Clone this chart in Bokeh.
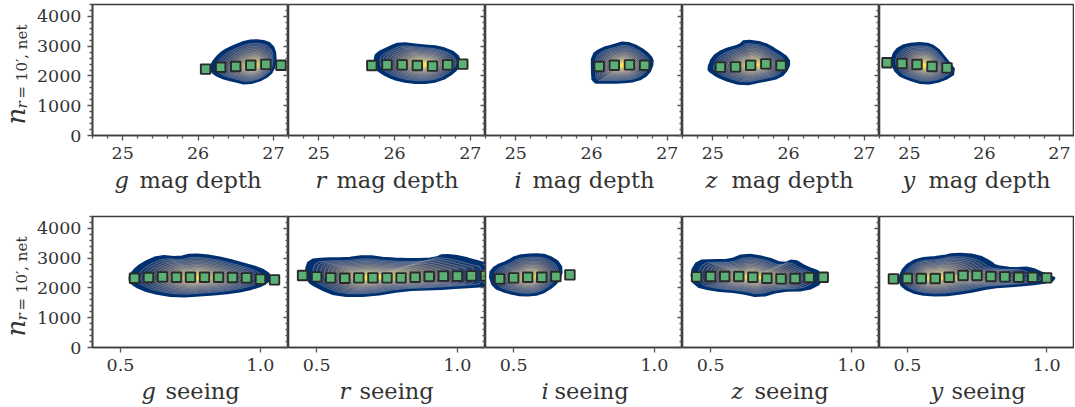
from math import pi

from bokeh.plotting import figure
from bokeh.layouts import column, row
from bokeh.models import FixedTicker, LinearAxis, Range1d, NumeralTickFormatter
from bokeh.core.properties import value
from bokeh.palettes import Cividis256
from bokeh.embed import file_html
from bokeh.resources import INLINE

Y_TICKS = [0, 1000, 2000, 3000, 4000]
Y_MINOR = [v for v in range(0, 4401, 200) if v % 1000]
DEPTH_TICKS = [25, 26, 27]
DEPTH_MINOR = [24.6, 24.8, 25.2, 25.4, 25.6, 25.8, 26.2, 26.4, 26.6, 26.8, 27.2]
SEEING_TICKS = [0.5, 1.0]

# median points
g_depth_x = [26.1, 26.3, 26.5, 26.7, 26.9, 27.1]
g_depth_y = [2230, 2290, 2320, 2360, 2390, 2360]
r_depth_x = [25.7, 25.9, 26.1, 26.3, 26.5, 26.7, 26.9]
r_depth_y = [2351, 2373, 2373, 2351, 2329, 2373, 2396]
i_depth_x = [26.1, 26.3, 26.5, 26.7]
i_depth_y = [2317, 2362, 2373, 2362]
z_depth_x = [25.1, 25.3, 25.5, 25.7, 25.9]
z_depth_y = [2295, 2306, 2362, 2407, 2351]
y_depth_x = [24.7, 24.9, 25.1, 25.3, 25.5]
y_depth_y = [2441, 2418, 2385, 2317, 2273]
g_see_x = [0.55, 0.60, 0.65, 0.70, 0.75, 0.80, 0.85, 0.90, 0.95, 1.00, 1.05]
g_see_y = [2328, 2351, 2373, 2362, 2362, 2362, 2362, 2351, 2340, 2295, 2272]
r_see_x = [0.45, 0.50, 0.55, 0.60, 0.65, 0.70, 0.75, 0.80, 0.85, 0.90, 0.95, 1.00, 1.05, 1.10]
r_see_y = [2418, 2373, 2340, 2328, 2340, 2340, 2340, 2340, 2362, 2384, 2396, 2396, 2407, 2407]
i_see_x = [0.45, 0.50, 0.55, 0.60, 0.65, 0.70]
i_see_y = [2306, 2340, 2362, 2362, 2384, 2440]
z_see_x = [0.45, 0.50, 0.55, 0.60, 0.65, 0.70, 0.75, 0.80, 0.85, 0.90]
z_see_y = [2373, 2384, 2384, 2384, 2362, 2328, 2306, 2317, 2351, 2362]
y_see_x = [0.45, 0.50, 0.55, 0.60, 0.65, 0.70, 0.75, 0.80, 0.85, 0.90, 0.95, 1.00]
y_see_y = [2306, 2317, 2317, 2317, 2362, 2418, 2418, 2384, 2373, 2362, 2362, 2340]

# outer density contour and density peak of each panel
g_depth_ox = [26.165, 26.23, 26.34, 26.47, 26.65, 26.83, 26.98, 27.03, 27.0, 26.87, 26.65, 26.47, 26.30, 26.19]
g_depth_oy = [2295, 2575, 2833, 2990, 3169, 3191, 3057, 2687, 2183, 1903, 1735, 1847, 1959, 2127]
g_depth_peak = (26.75, 2320)
r_depth_ox = [25.74, 25.76, 25.94, 26.07, 26.34, 26.60, 26.82, 26.87, 26.78, 26.60, 26.34, 26.07, 25.89, 25.76]
r_depth_oy = [2519, 2743, 2967, 3101, 3023, 2967, 2743, 2407, 2127, 1847, 1757, 1847, 2015, 2239]
r_depth_peak = (26.4, 2380)
i_depth_ox = [26.01, 26.13, 26.29, 26.44, 26.62, 26.77, 26.81, 26.75, 26.60, 26.38, 26.16, 26.02, 26.01]
i_depth_oy = [2687, 2911, 3023, 3135, 2967, 2687, 2463, 2071, 1847, 1791, 1791, 1791, 2183]
i_depth_peak = (26.42, 2350)
z_depth_ox = [24.94, 25.0, 25.13, 25.36, 25.42, 25.67, 25.84, 26.0, 26.0, 25.89, 25.67, 25.40, 25.13, 24.98]
z_depth_oy = [2239, 2631, 2855, 3023, 3191, 3101, 2855, 2575, 2295, 1959, 1847, 1701, 1903, 2127]
z_depth_peak = (25.55, 2370)
y_depth_ox = [24.755, 24.81, 24.95, 25.2, 25.35, 25.48, 25.62, 25.44, 25.2, 24.98, 24.84]
y_depth_oy = [2463, 2855, 3057, 3101, 2967, 2575, 2127, 1847, 1735, 1903, 2071]
y_depth_peak = (25.23, 2350)
g_see_ox = [0.53, 0.548, 0.577, 0.637, 0.708, 0.756, 0.833, 0.917, 1.0, 1.036, 1.024, 0.988, 0.905, 0.81, 0.702, 0.607, 0.548]
g_see_oy = [2328, 2586, 2810, 3068, 3012, 3124, 3056, 2866, 2642, 2418, 2194, 2026, 1858, 1780, 1712, 1858, 2082]
g_see_peak = (0.78, 2340)
r_see_ox = [0.462, 0.474, 0.527, 0.599, 0.676, 0.753, 0.849, 0.92, 0.95, 1.015, 1.1, 1.13, 1.13, 1.1, 1.015, 0.92, 0.81, 0.693, 0.575, 0.503, 0.468]
r_see_oy = [2586, 2922, 2978, 2978, 3068, 2978, 2944, 2978, 3112, 3034, 2810, 2754, 2138, 2082, 2026, 1970, 1936, 1746, 1746, 2026, 2250]
r_see_peak = (0.69, 2340)
i_see_ox = [0.414, 0.435, 0.476, 0.512, 0.571, 0.619, 0.667, 0.669, 0.643, 0.595, 0.536, 0.476, 0.429]
i_see_oy = [2474, 2720, 2866, 3068, 3124, 3090, 2810, 2418, 2082, 1802, 1746, 1858, 2026]
i_see_peak = (0.56, 2350)
z_see_ox = [0.431, 0.455, 0.508, 0.568, 0.621, 0.699, 0.758, 0.794, 0.842, 0.889, 0.895, 0.842, 0.746, 0.675, 0.604, 0.508, 0.443]
z_see_oy = [2530, 2900, 2922, 2922, 3124, 3012, 2788, 2944, 2676, 2530, 2194, 1936, 1914, 1712, 1858, 1936, 2082]
z_see_peak = (0.65, 2350)
y_see_ox = [0.471, 0.489, 0.537, 0.62, 0.668, 0.751, 0.799, 0.816, 0.882, 0.941, 1.001, 1.034, 0.977, 0.882, 0.799, 0.715, 0.62, 0.537, 0.483]
y_see_oy = [2306, 2698, 2978, 3034, 3146, 3090, 2866, 2720, 2642, 2676, 2418, 2295, 2160, 2082, 2026, 1858, 1746, 1802, 2026]
y_see_peak = (0.59, 2330)

BANDS = ["g", "r", "i", "z", "y"]
TOP_LETTER_LEFT = [114, 315, 514, 705, 902]
TOP_REST_LEFT = [139, 336, 532, 731, 928]
BOT_LETTER_LEFT = [141, 339, 541, 731, 930]
BOT_REST_LEFT = [165, 359, 554, 754, 951]

SPINE = "#3d3d3d"
TEXT = "#333333"
FONT = "DejaVu Serif"
N_LEVELS = 15
YSTRIP_W = 30


def chaikin(xs, ys, n=1):
    for _ in range(n):
        nx, ny = [], []
        m = len(xs)
        for i in range(m):
            j = (i + 1) % m
            nx += [0.75 * xs[i] + 0.25 * xs[j], 0.25 * xs[i] + 0.75 * xs[j]]
            ny += [0.75 * ys[i] + 0.25 * ys[j], 0.25 * ys[i] + 0.75 * ys[j]]
        xs, ys = nx, ny
    return xs, ys


def draw_density(p, ox, oy, peak):
    sx, sy = chaikin(ox, oy)
    for k in range(N_LEVELS):
        t = k / (N_LEVELS - 1)
        f = 1.0 if k == 0 else (1 - t) * 0.84 + 0.12
        xs = [peak[0] + f * (a - peak[0]) for a in sx]
        ys = [peak[1] + f * (b - peak[1]) for b in sy]
        colour = Cividis256[int(255 * (0.14 + 0.86 * t ** 1.7))]
        if k == 0:
            p.patch(xs, ys, fill_color="#00306f", line_color="#00306f", line_width=3, line_join="round")
        else:
            p.patch(xs, ys, fill_color=colour, line_color="#c8ccd4", line_alpha=0.5, line_width=0.7)


def style_axis(a):
    a.major_tick_out, a.major_tick_in = 5, 0
    a.minor_tick_out, a.minor_tick_in = 3, 0
    a.major_tick_line_color = a.minor_tick_line_color = "#555555"
    a.major_tick_line_width = a.minor_tick_line_width = 1.3
    a.axis_line_color = SPINE
    a.axis_line_width = 1.6
    a.major_label_text_font = FONT
    a.major_label_text_font_size = "17.5px"
    a.major_label_text_color = TEXT
    a.major_label_standoff = 6


def make_panel(idx, top, xr, ticks, minor, ox, oy, peak, mx, my):
    left = 92 - YSTRIP_W if idx == 0 else 0
    fw = 196 if idx == 0 else (195 if idx == 4 else 197)
    top_b = 4
    bottom_b = 31 if top else 30
    fh = 131
    p = figure(width=left + fw, height=top_b + fh + bottom_b, frame_width=fw, frame_height=fh,
               x_range=Range1d(*xr), y_range=Range1d(0, 4400),
               output_backend="svg", toolbar_location=None,
               min_border_left=left, min_border_right=0, min_border_top=top_b, min_border_bottom=bottom_b,
               y_axis_location="left" if idx == 0 else None)
    p.grid.visible = False
    p.outline_line_color = SPINE
    p.outline_line_width = 1.6
    p.background_fill_color = "white"
    p.border_fill_color = None

    ax = p.xaxis[0]
    ax.ticker = FixedTicker(ticks=ticks, minor_ticks=minor)
    if not top:
        ax.formatter = NumeralTickFormatter(format="0.0")
    style_axis(ax)

    if idx == 0:
        ay = p.yaxis[0]
        ay.ticker = FixedTicker(ticks=Y_TICKS, minor_ticks=Y_MINOR)
        style_axis(ay)
        ay.major_label_orientation = "horizontal"

    if idx < 4:
        ar = LinearAxis(ticker=FixedTicker(ticks=Y_TICKS, minor_ticks=Y_MINOR))
        style_axis(ar)
        ar.major_label_overrides = {v: "" for v in Y_TICKS}
        ar.major_label_standoff = 0
        ar.major_label_text_font_size = "1px"
        ar.major_tick_in, ar.major_tick_out = 5, 0
        ar.minor_tick_in, ar.minor_tick_out = 3, 0
        p.add_layout(ar, "right")

    draw_density(p, ox, oy, peak)
    p.scatter(mx, my, marker="square", size=9.5, fill_color="#5bb075", line_color="#2a2a2a", line_width=1.9)
    return p


def text_strip(w, h):
    s = figure(width=w, height=h, frame_width=w, frame_height=h,
               x_range=Range1d(0, w), y_range=Range1d(0, h),
               output_backend="svg", toolbar_location=None,
               min_border=0, x_axis_location=None, y_axis_location=None)
    s.grid.visible = False
    s.outline_line_color = None
    s.border_fill_color = None
    return s


def x_label_strip(h, baseline, words, word, letter_left, rest_left):
    s = text_strip(1075, h)
    s.text(letter_left, [baseline] * 5, text=words, text_font=value(FONT), text_font_style="italic",
           text_font_size="22.5px", text_color=TEXT, text_baseline="alphabetic", text_align="left")
    s.text(rest_left, [baseline] * 5, text=[word] * 5, text_font=value(FONT),
           text_font_size="22.5px", text_color=TEXT, text_baseline="alphabetic", text_align="left")
    return s


def y_label_strip(h):
    s = text_strip(YSTRIP_W, h)
    base = h - 120
    s.text([15], [base], text=["n"], angle=pi / 2, text_font=value(FONT), text_font_style="italic",
           text_font_size="26px", text_color=TEXT, text_baseline="alphabetic", text_align="left")
    s.text([21], [base + 16], text=["r"], angle=pi / 2, text_font=value(FONT), text_font_style="italic",
           text_font_size="15px", text_color=TEXT, text_baseline="alphabetic", text_align="left")
    s.text([21], [base + 26], text=["= 10\u2032, net"], angle=pi / 2, text_font=value(FONT),
           text_font_size="15px", text_color=TEXT, text_baseline="alphabetic", text_align="left")
    return s


depth = [(g_depth_ox, g_depth_oy, g_depth_peak, g_depth_x, g_depth_y),
         (r_depth_ox, r_depth_oy, r_depth_peak, r_depth_x, r_depth_y),
         (i_depth_ox, i_depth_oy, i_depth_peak, i_depth_x, i_depth_y),
         (z_depth_ox, z_depth_oy, z_depth_peak, z_depth_x, z_depth_y),
         (y_depth_ox, y_depth_oy, y_depth_peak, y_depth_x, y_depth_y)]
seeing = [(g_see_ox, g_see_oy, g_see_peak, g_see_x, g_see_y),
          (r_see_ox, r_see_oy, r_see_peak, r_see_x, r_see_y),
          (i_see_ox, i_see_oy, i_see_peak, i_see_x, i_see_y),
          (z_see_ox, z_see_oy, z_see_peak, z_see_x, z_see_y),
          (y_see_ox, y_see_oy, y_see_peak, y_see_x, y_see_y)]

top_row = [make_panel(i, True, (24.6, 27.2), DEPTH_TICKS, DEPTH_MINOR, *depth[i]) for i in range(5)]
bot_row = [make_panel(i, False, (0.4, 1.1), SEEING_TICKS, [], *seeing[i]) for i in range(5)]

page = column(
    row(y_label_strip(166), *top_row, spacing=0),
    x_label_strip(46, 33, BANDS, "mag depth", TOP_LETTER_LEFT, TOP_REST_LEFT),
    row(y_label_strip(165), *bot_row, spacing=0),
    x_label_strip(30, 17, BANDS, "seeing", BOT_LETTER_LEFT, BOT_REST_LEFT),
    spacing=0,
)
open("out.html", "w").write(file_html(page, INLINE))
